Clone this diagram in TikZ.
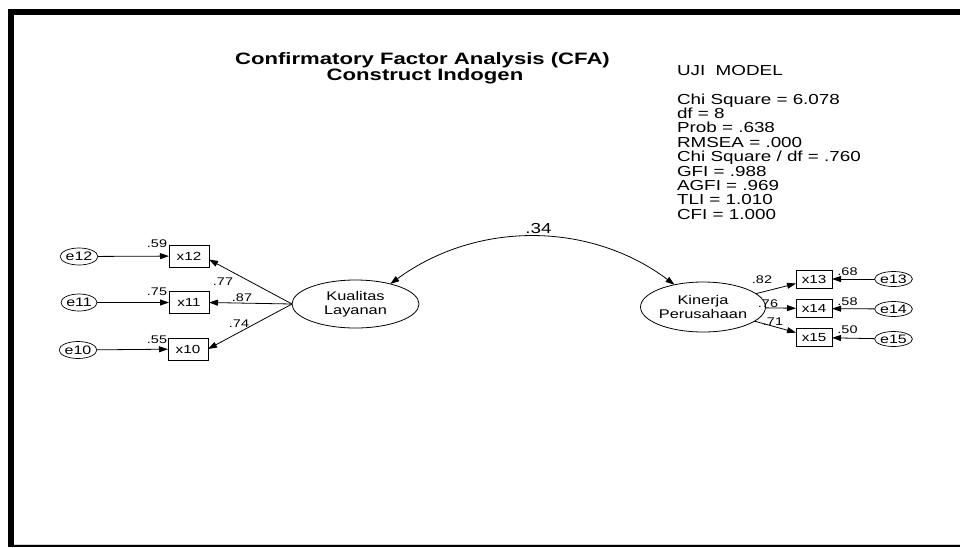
\documentclass[tikz,border=0pt]{standalone}
\usepackage{fontspec}
\setmainfont{Liberation Sans}[FakeStretch=1.3]
\newfontfamily\titlefont{Liberation Sans}[FakeStretch=1.34]
\usetikzlibrary{shapes.geometric,arrows.meta}
\begin{document}
\begin{tikzpicture}[x=1pt,y=-1pt,
  every node/.style={inner sep=0pt, outer sep=0pt},
  link/.style={line width=0.8pt, -{Triangle[length=9pt,width=6pt]}},
  obs/.style={draw, line width=0.7pt, minimum width=40pt, minimum height=22pt,
    font=\fontsize{11.7}{13}\selectfont},
  obsr/.style={obs, minimum width=36pt, minimum height=18pt},
  err/.style={draw, ellipse, line width=0.7pt, minimum width=32pt, minimum height=17pt,
    font=\fontsize{12.3}{13}\selectfont},
  errr/.style={err, minimum width=33pt, minimum height=15pt},
  latent/.style={draw, ellipse, line width=0.8pt, align=center,
    font=\fontsize{12.6}{14}\selectfont},
  est/.style={anchor=base, font=\fontsize{11.1}{13}\selectfont},
  stat/.style={anchor=base west, font=\fontsize{14.5}{15}\selectfont},
  ttl/.style={anchor=base, font=\titlefont\bfseries\fontsize{16.5}{18}\selectfont},
]
\useasboundingbox (0,0) rectangle (960,547);

% frame
\fill (8,9) rectangle (960,15);
\fill (8,9) rectangle (14,547);
\draw[gray!35, line width=0.8pt] (14,544.6) -- (960,544.6);
\fill (14,545.4) rectangle (960,547);

% title
\node[ttl] (t1) at (422.5,64) {Confirmatory Factor Analysis (CFA)};
\node[ttl] (t2) at (425,80.5) {Construct Indogen};

% fit statistics
\node[stat] (uji) at (677,75.5) {UJI\ \ MODEL};
\foreach \s [count=\i from 0] in {Chi Square = 6.078, df = 8, Prob = .638,
    RMSEA = .000, Chi Square / df = .760, GFI = .988, AGFI = .969,
    TLI = 1.010, CFI = 1.000}
  \node[stat] (st\i) at (677,104+14.4*\i) {\s};

% left construct
\node[latent, minimum width=127pt, minimum height=48pt] (kl) at (355.5,304) {Kualitas\\Layanan};
\node[obs] (x12) at (189,256) {x12};
\node[obs] (x11) at (189,302.5) {x11};
\node[obs] (x10) at (188,349) {x10};
\node[err] (e12) at (79,256.5) {e12};
\node[err] (e11) at (79,302.5) {e11};
\node[err] (e10) at (78,350) {e10};

\draw[link] (e12) -- (x12);
\draw[link] (e11) -- (x11);
\draw[link] (e10) -- (x10);
\draw[link] (kl.west) -- (x12.350);
\draw[link] (kl.west) -- (x11.east);
\draw[link] (kl.west) -- (x10.east);

\node[est] (r12) at (157,247) {.59};
\node[est] (r11) at (157,295) {.75};
\node[est] (r10) at (157,343) {.55};
\node[est] (l12) at (223,285) {.77};
\node[est] (l11) at (242,301) {.87};
\node[est] (l10) at (239,327) {.74};

% right construct
\node[latent, minimum width=108pt, minimum height=50pt] (kp) at (703,307) {Kinerja\\Perusahaan};
\node[obsr] (x13) at (814,279) {x13};
\node[obsr] (x14) at (814,308.5) {x14};
\node[obsr] (x15) at (814,337.5) {x15};
\node[errr] (e13) at (893.5,279) {e13};
\node[errr] (e14) at (893.5,309) {e14};
\node[errr] (e15) at (893.5,339) {e15};

\draw[link] (kp) -- (x13);
\draw[link] (kp) -- (x14);
\draw[link] (kp) -- (x15);
\draw[link] (e13) -- (x13);
\draw[link] (e14) -- (x14);
\draw[link] (e15) -- (x15);

\node[est] (l13) at (762,283) {.82};
\node[est] (l14) at (768,307) {.76};
\node[est] (l15) at (773,325) {.71};
\node[est] (r13) at (847.5,275) {.68};
\node[est] (r14) at (847.5,305) {.58};
\node[est] (r15) at (847.5,333) {.50};

% covariance between the constructs
\draw[line width=0.8pt, {Triangle[length=9pt,width=6pt]}-{Triangle[length=9pt,width=6pt]}]
  (kl.30) .. controls (477,220.5) and (590,221.5) .. (kp.142);
\node[anchor=base, font=\fontsize{14.5}{15}\selectfont] (cov) at (538.5,233) {.34};
\end{tikzpicture}
\end{document}
